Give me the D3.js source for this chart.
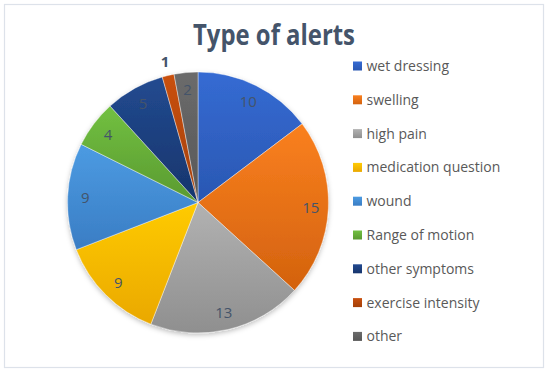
<!DOCTYPE html>
<html>
  <head>
    <meta charset="utf-8">
    <title>Type of alerts</title>
    <script type="text/javascript" src="https://d3js.org/d3.v7.min.js"></script>
    <style>
      body { margin: 0; background: #fff; }
    </style>
  </head>
  <body>
    <script type="text/javascript">
    var categories = ["wet dressing", "swelling", "high pain", "medication question", "wound",
                      "Range of motion", "other symptoms", "exercise intensity", "other"];
    var values = [10, 15, 13, 9, 9, 4, 5, 1, 2];
    var topColors = ["#356bd3", "#fa801f", "#b2b2b2", "#ffcb05", "#4c9be2", "#72c041", "#224a90", "#c9500e", "#6b6b6b"];
    var bottomColors = ["#2a57b2", "#d3620e", "#8f8f8f", "#eaa800", "#3a7dc4", "#5a9a30", "#17356c", "#a33f08", "#575757"];

    var w = 550;
    var h = 374;
    var cx = 198, cy = 202.5, radius = 130.5;

    var svg = d3.select("body")
                .append("svg")
                .attr("width", w)
                .attr("height", h);

    var defs = svg.append("defs");
    // vertical gradient per slice, like the office fill
    categories.forEach(function(c, i){
      var g = defs.append("linearGradient")
                  .attr("id", "grad" + i)
                  .attr("x1", 0).attr("y1", 0)
                  .attr("x2", 0).attr("y2", 1);
      g.append("stop").attr("offset", "0%").attr("stop-color", topColors[i]);
      g.append("stop").attr("offset", "100%").attr("stop-color", bottomColors[i]);
    });
    var shadow = defs.append("filter").attr("id", "shadow")
                     .attr("x", "-10%").attr("y", "-10%").attr("width", "120%").attr("height", "125%");
    shadow.append("feDropShadow").attr("dx", 0).attr("dy", 2).attr("stdDeviation", 2.5)
          .attr("flood-color", "#000").attr("flood-opacity", 0.25);

    // chart frame
    svg.append("rect")
       .attr("x", 4.5).attr("y", 4.5)
       .attr("width", 539).attr("height", 363)
       .attr("fill", "#fff")
       .attr("stroke", "#dde2ea")
       .attr("stroke-width", 1.2);

    // title
    svg.append("text")
       .text("Type of alerts")
       .attr("x", 274)
       .attr("y", 45)
       .attr("text-anchor", "middle")
       .attr("textLength", 162)
       .attr("lengthAdjust", "spacingAndGlyphs")
       .attr("font-family", "Open Sans, sans-serif")
       .attr("font-weight", "bold")
       .attr("font-size", "28px")
       .attr("fill", "#44546a");

    var pie = d3.pie().sort(null).value(function(d){ return d; });
    var arcs = pie(values);
    var arc = d3.arc().innerRadius(0).outerRadius(radius);
    var labelArc = d3.arc().innerRadius(radius * 0.865).outerRadius(radius * 0.865);
    var outArc = d3.arc().innerRadius(radius + 14).outerRadius(radius + 14);

    var g = svg.append("g").attr("transform", "translate(" + cx + "," + cy + ")");

    g.append("g")
     .attr("filter", "url(#shadow)")
     .selectAll("path")
     .data(arcs)
     .enter()
     .append("path")
     .attr("d", arc)
     .attr("fill", function(d, i){ return "url(#grad" + i + ")"; })
     .attr("stroke", "#fff")
     .attr("stroke-width", 0.4);

    g.selectAll("text")
     .data(arcs)
     .enter()
     .append("text")
     .text(function(d){ return d.data; })
     .attr("transform", function(d){
        var p = (d.endAngle - d.startAngle) < 0.1 ? outArc.centroid(d) : labelArc.centroid(d);
        return "translate(" + p[0] + "," + p[1] + ")";
      })
     .attr("text-anchor", "middle")
     .attr("dy", "0.35em")
     .attr("font-family", "Open Sans, sans-serif")
     .attr("font-weight", function(d){ return (d.endAngle - d.startAngle) < 0.1 ? "bold" : "normal"; })
     .attr("font-size", "15px")
     .attr("fill", "#44546a");

    // legend
    var legend = svg.append("g").attr("transform", "translate(353,66)");
    var rows = legend.selectAll("g")
                     .data(categories)
                     .enter()
                     .append("g")
                     .attr("transform", function(d, i){ return "translate(0," + (i * 33.8) + ")"; });
    rows.append("rect")
        .attr("x", 0).attr("y", -4.5)
        .attr("width", 9).attr("height", 9)
        .attr("fill", function(d, i){ return "url(#grad" + i + ")"; });
    rows.append("text")
        .text(function(d){ return d; })
        .attr("x", 13.5)
        .attr("dy", "0.35em")
        .attr("font-family", "Open Sans, sans-serif")
        .attr("font-size", "14px")
        .attr("fill", "#595959");
    </script>
  </body>
</html>
